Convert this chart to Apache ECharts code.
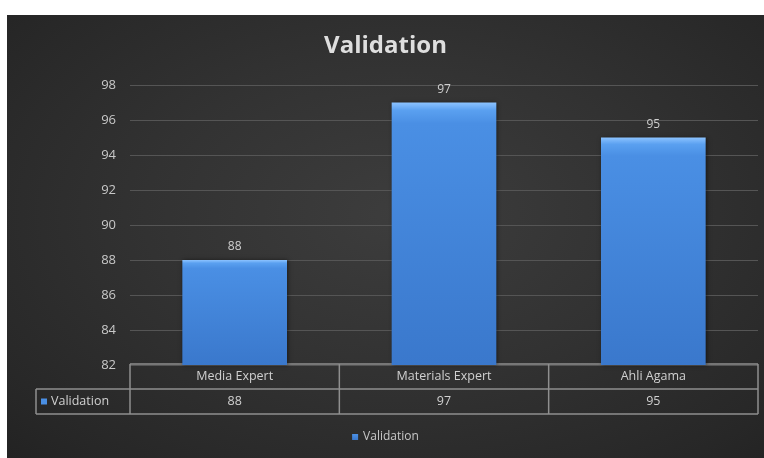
<!DOCTYPE html>
<html>
<head>
<meta charset="utf-8">
<script src="https://cdn.jsdelivr.net/npm/echarts@6/dist/echarts.min.js"></script>
<style>
html,body{margin:0;padding:0;background:#ffffff;width:764px;height:458px;overflow:hidden;}
#chart{position:absolute;left:7px;top:15px;width:757px;height:443px;
background:radial-gradient(ellipse 75% 80% at 52% 45%, #3d3d3d 0%, #323232 45%, #272727 85%, #222222 100%);}
</style>
</head>
<body>
<div id="chart"></div>
<script>
const titleText = 'Validation';
const seriesName = 'Validation';
const categories = ['Media Expert', 'Materials Expert', 'Ahli Agama'];
const values = [88, 97, 95];
const yMin = 82, yMax = 98, yInterval = 2;

const chart = echarts.init(document.getElementById('chart'), null, {renderer: 'canvas'});
const fontFam = '"Open Sans", Lato, sans-serif';
const textGray = '#d0d0d0';

const option = {
  backgroundColor: 'transparent',
  animation: false,
  title: {
    text: titleText,
    left: 'center',
    top: 14,
    textStyle: {color: '#dedede', fontSize: 24, fontWeight: 'bold', fontFamily: fontFam}
  },
  legend: {
    show: true,
    data: [seriesName],
    bottom: 10,
    left: 'center',
    itemWidth: 6, itemHeight: 6,
    itemGap: 5,
    icon: 'rect',
    textStyle: {color: '#c8c8c8', fontSize: 12, fontFamily: fontFam}
  },
  grid: {left: 123, right: 6, top: 70, bottom: 93, containLabel: false},
  xAxis: {
    type: 'category',
    data: categories,
    axisLine: {show: false},
    axisTick: {show: false},
    axisLabel: {show: false},
    splitLine: {show: false}
  },
  yAxis: {
    type: 'value',
    min: yMin, max: yMax, interval: yInterval,
    axisLine: {show: false},
    axisTick: {show: false},
    axisLabel: {color: '#c8c8c8', fontSize: 13, margin: 14, fontFamily: fontFam},
    splitLine: {lineStyle: {color: '#555555', width: 1}}
  },
  series: [{
    name: seriesName,
    type: 'bar',
    data: values,
    barWidth: '50%',
    itemStyle: {
      color: new echarts.graphic.LinearGradient(0, 0, 0, 1, [
        {offset: 0, color: '#8cc3ff'},
        {offset: 0.03, color: '#5aa0f0'},
        {offset: 0.08, color: '#4a8fe4'},
        {offset: 1, color: '#3a78cc'}
      ]),
      shadowColor: 'rgba(0,0,0,0.5)',
      shadowBlur: 4,
      shadowOffsetX: 1
    },
    label: {show: true, position: 'top', distance: 7, color: '#cfcfcf', fontSize: 12, fontFamily: fontFam}
  }]
};
chart.setOption(option);

function buildTable() {
  const xs = categories.map((c, i) => chart.convertToPixel({xAxisIndex: 0}, i));
  const band = categories.length > 1 ? xs[1] - xs[0] : 200;
  const x0 = xs[0] - band / 2;
  const x1 = xs[xs.length - 1] + band / 2;
  const yTop = chart.convertToPixel({yAxisIndex: 0}, yMin) - 1;
  const rowH = 25;
  const yMid = yTop + rowH;
  const yBot = yTop + 2 * rowH;
  const labelLeft = 29;
  const lineStyle = {stroke: '#8f8f8f', lineWidth: 1.5};
  const els = [];
  const line = (ax, ay, bx, by) => els.push({type: 'line', shape: {x1: ax, y1: ay, x2: bx, y2: by}, style: lineStyle, silent: true});
  line(x0, yTop, x1, yTop);
  line(labelLeft, yMid, x1, yMid);
  line(labelLeft, yBot, x1, yBot);
  line(labelLeft, yMid, labelLeft, yBot);
  for (let i = 0; i <= categories.length; i++) {
    const x = x0 + i * band;
    line(x, yTop, x, yBot);
  }
  categories.forEach((c, i) => {
    els.push({type: 'text', x: xs[i], y: yTop + rowH / 2, silent: true,
      style: {text: c, fill: textGray, font: '12.5px ' + fontFam, align: 'center', verticalAlign: 'middle'}});
    els.push({type: 'text', x: xs[i], y: yMid + rowH / 2, silent: true,
      style: {text: String(values[i]), fill: textGray, font: '12.5px ' + fontFam, align: 'center', verticalAlign: 'middle'}});
  });
  els.push({type: 'rect', shape: {x: labelLeft + 5, y: yMid + rowH / 2 - 3, width: 6, height: 6}, style: {fill: '#4a8fe4'}, silent: true});
  els.push({type: 'text', x: labelLeft + 15, y: yMid + rowH / 2, silent: true,
    style: {text: seriesName, fill: textGray, font: '12.5px ' + fontFam, align: 'left', verticalAlign: 'middle'}});
  chart.setOption({graphic: {elements: els}});
}
buildTable();
</script>
</body>
</html>
